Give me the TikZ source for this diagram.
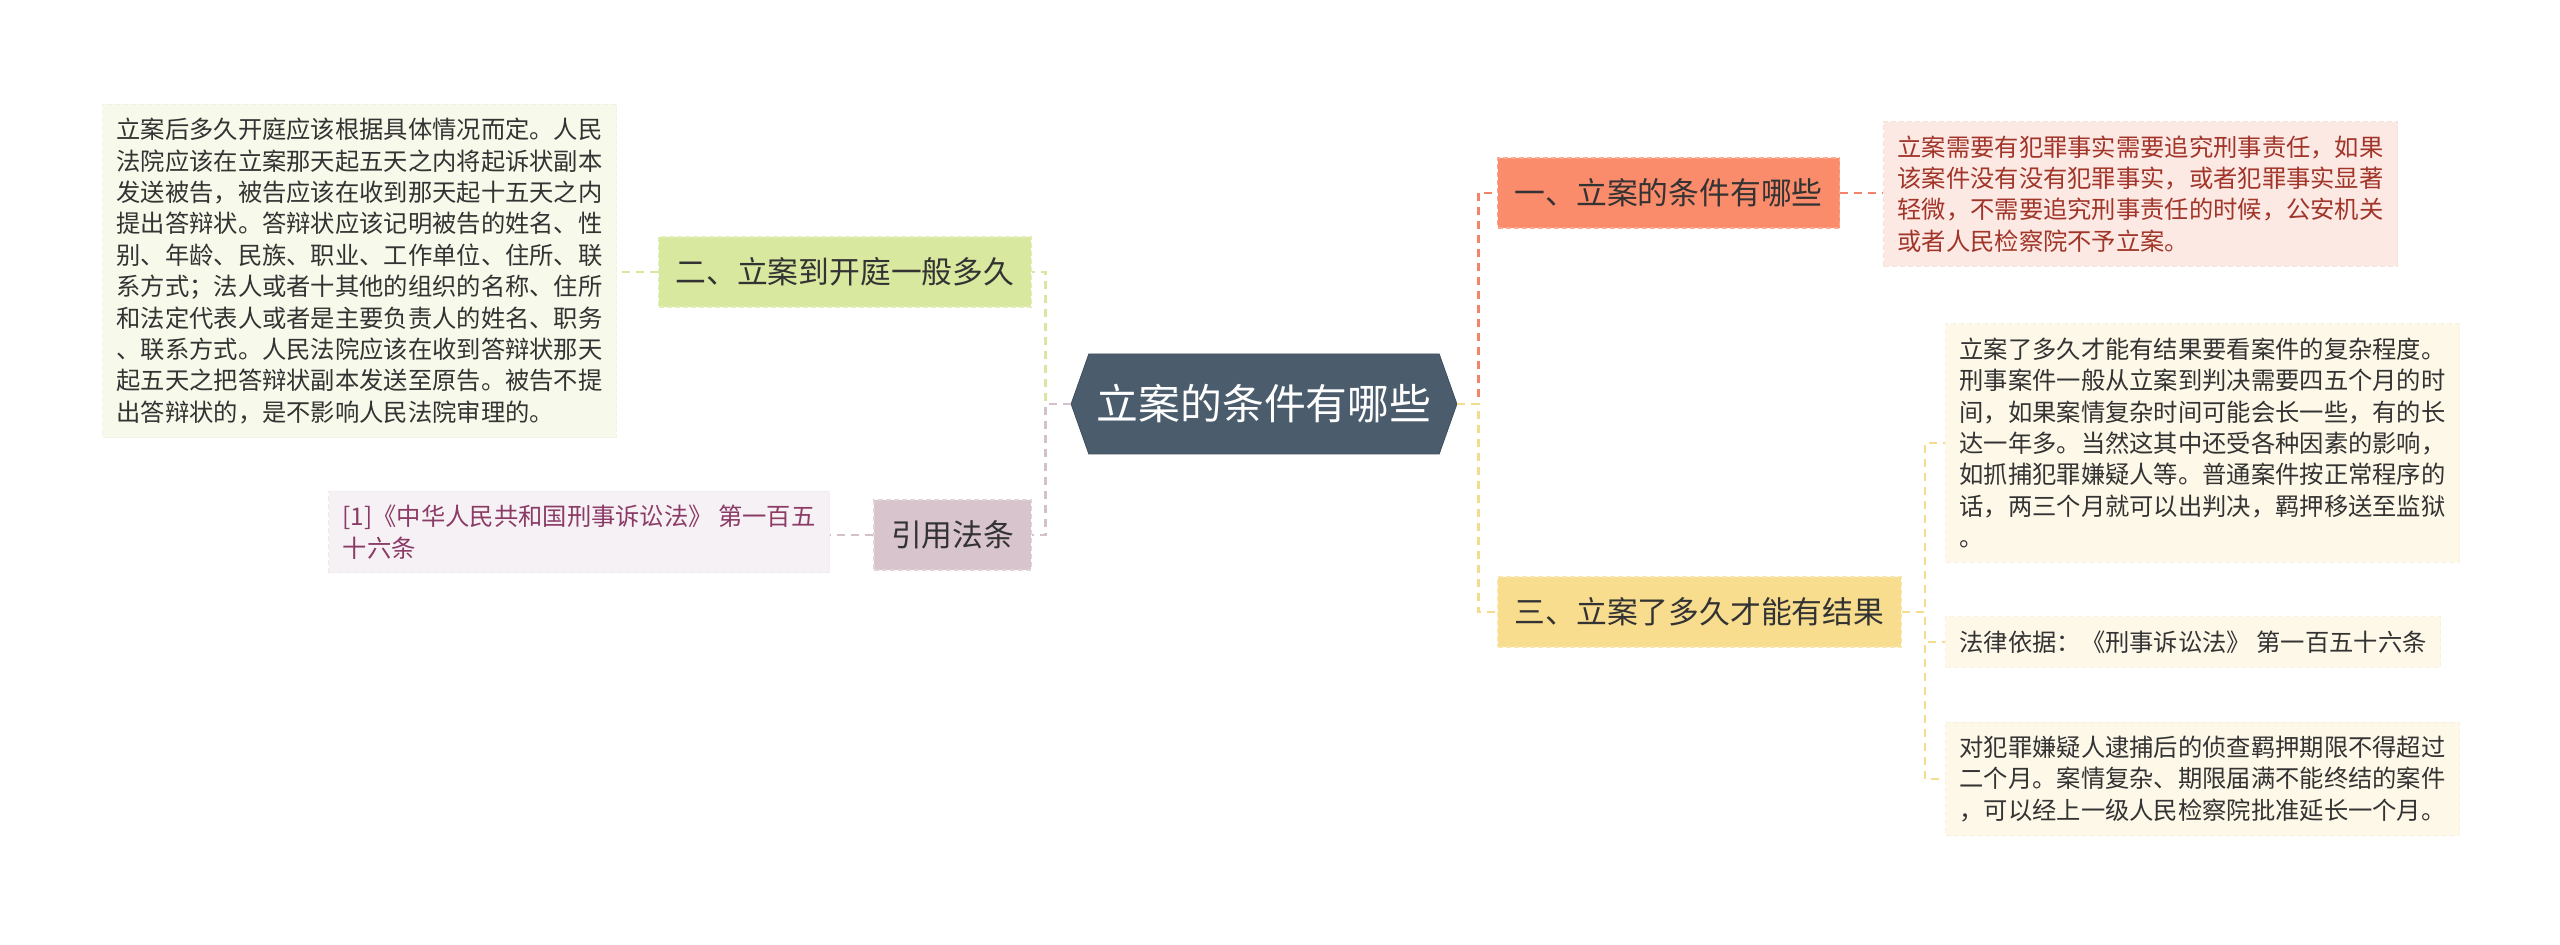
\documentclass[tikz,border=0pt]{standalone}
\usepackage{fontspec}
\setmainfont{Noto Sans CJK SC}
\usetikzlibrary{shapes.symbols}
\definecolor{rootfill}{HTML}{4B5D6D}
\definecolor{textdark}{HTML}{333333}
\definecolor{onefill}{HTML}{FA8B6B}
\definecolor{oneline}{HTML}{F3846A}
\definecolor{oneleaf}{HTML}{FDE9E4}
\definecolor{onetext}{HTML}{A13529}
\definecolor{twofill}{HTML}{D9E89F}
\definecolor{twoline}{HTML}{D9E6A0}
\definecolor{twoleaf}{HTML}{F7F9EA}
\definecolor{reffill}{HTML}{D8C4CD}
\definecolor{refline}{HTML}{D3C2CA}
\definecolor{refleaf}{HTML}{F6F1F4}
\definecolor{reftext}{HTML}{8B3B66}
\definecolor{threefill}{HTML}{F8DD8F}
\definecolor{threeline}{HTML}{F5DC8C}
\definecolor{threeleaf}{HTML}{FEF8E8}

\begin{document}
\begin{tikzpicture}[x=0.5pt, y=-0.5pt,
    rootbox/.style={signal, signal to=east and west, signal pointer angle=141, fill=rootfill, draw=rootfill!85!black,
        minimum width=186pt, minimum height=50pt, inner xsep=4pt, text=white, font=\fontsize{20.9}{24}\selectfont},
    topic/.style={draw=#1!75!white, fill=#1, dash pattern=on 2.5pt off 1.5pt, line width=0.7pt, inner xsep=8.5pt,
        minimum height=35pt, text=textdark, font=\fontsize{15.4}{18}\selectfont},
    leaf/.style={draw=#1!97!black, fill=#1, dash pattern=on 2.5pt off 1.5pt, line width=0.5pt, align=left,
        inner xsep=7pt, inner ysep=7pt, text=textdark, font=\fontsize{12.15}{15.7}\selectfont},
    conn/.style={line width=1.4pt, dash pattern=on 4pt off 3pt}
]
\fill[white] (0,0) rectangle (2560,945);
\useasboundingbox (0,0) rectangle (2560,945);

% centre
\node[rootbox] (root) at (1264,404) {立案的条件有哪些};

% left side
\node[topic=twofill, anchor=east] (two) at (1032,272) {二、立案到开庭一般多久};
\node[topic=reffill, anchor=east] (ref) at (1032,535) {引用法条};
\node[leaf=twoleaf, anchor=east] (twoleaf) at (617,271) {立案后多久开庭应该根据具体情况而定。人民\\
法院应该在立案那天起五天之内将起诉状副本\\
发送被告，被告应该在收到那天起十五天之内\\
提出答辩状。答辩状应该记明被告的姓名、性\\
别、年龄、民族、职业、工作单位、住所、联\\
系方式；法人或者十其他的组织的名称、住所\\
和法定代表人或者是主要负责人的姓名、职务\\
、联系方式。人民法院应该在收到答辩状那天\\
起五天之把答辩状副本发送至原告。被告不提\\
出答辩状的，是不影响人民法院审理的。};
\node[leaf=refleaf, text=reftext, anchor=east] (refleaf) at (830,532) {[1]《中华人民共和国刑事诉讼法》 第一百五\\
十六条};

% right side
\node[topic=onefill, anchor=west] (one) at (1497,193) {一、立案的条件有哪些};
\node[topic=threefill, anchor=west] (three) at (1497,612) {三、立案了多久才能有结果};
\node[leaf=oneleaf, text=onetext, anchor=west] (oneleaf) at (1883,194) {立案需要有犯罪事实需要追究刑事责任，如果\\
该案件没有没有犯罪事实，或者犯罪事实显著\\
轻微，不需要追究刑事责任的时候，公安机关\\
或者人民检察院不予立案。};
\node[leaf=threeleaf, anchor=west] (threea) at (1945,443) {立案了多久才能有结果要看案件的复杂程度。\\
刑事案件一般从立案到判决需要四五个月的时\\
间，如果案情复杂时间可能会长一些，有的长\\
达一年多。当然这其中还受各种因素的影响，\\
如抓捕犯罪嫌疑人等。普通案件按正常程序的\\
话，两三个月就可以出判决，羁押移送至监狱\\
。};
\node[leaf=threeleaf, anchor=west] (threeb) at (1945,642) {法律依据：《刑事诉讼法》 第一百五十六条};
\node[leaf=threeleaf, anchor=west] (threec) at (1945,779) {对犯罪嫌疑人逮捕后的侦查羁押期限不得超过\\
二个月。案情复杂、期限届满不能终结的案件\\
，可以经上一级人民检察院批准延长一个月。};

% connectors
\draw[conn, twoline] (root.west) -- ++(-25,0) |- (two.east);
\draw[conn, refline] (root.west) -- ++(-25,0) |- (ref.east);
\draw[conn, oneline] (root.east) -- ++(21,0) |- (one.west);
\draw[conn, threeline] (root.east) -- ++(21,0) |- (three.west);
\draw[conn, twoline] (two.west) -- (two.west -| twoleaf.east);
\draw[conn, refline] (ref.west) -- (ref.west -| refleaf.east);
\draw[conn, oneline] (one.east) -- (one.east -| oneleaf.west);
\foreach \n in {threea, threeb, threec} {
    \draw[conn, threeline] (three.east) -- ++(23,0) |- (\n.west);
}
\end{tikzpicture}
\end{document}
